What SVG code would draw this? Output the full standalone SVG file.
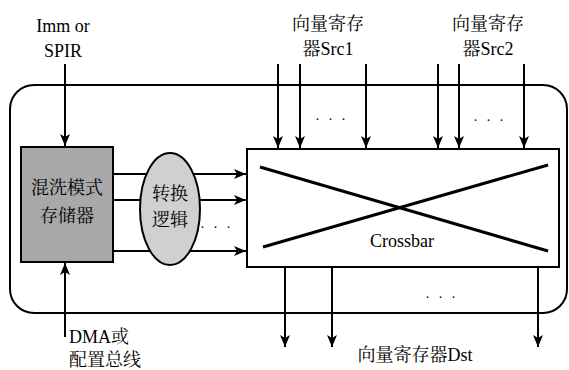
<svg xmlns="http://www.w3.org/2000/svg" width="569" height="370" viewBox="0 0 569 370">
<defs>
<marker id="ah" viewBox="0 0 12 10" refX="12" refY="5" markerWidth="12" markerHeight="10" markerUnits="userSpaceOnUse" orient="auto">
<path d="M0,0 L12,5 L0,10 L3,5 Z" fill="#000"/>
</marker>
</defs>
<rect width="569" height="370" fill="#fff"/>
<g id="frame">
<rect x="10" y="85" width="557" height="228" rx="24" ry="24" fill="none" stroke="#000" stroke-width="2"/>
</g>
<g id="connectors" stroke="#000" stroke-width="2" fill="none" marker-end="url(#ah)">
<line x1="65" y1="64" x2="65" y2="146"/>
<line x1="65" y1="337" x2="65" y2="263"/>
<line x1="113" y1="174" x2="246" y2="174"/>
<line x1="113" y1="200" x2="246" y2="200"/>
<line x1="113" y1="251" x2="246" y2="251"/>
<line x1="278" y1="64" x2="278" y2="148"/>
<line x1="300" y1="64" x2="300" y2="148"/>
<line x1="366" y1="64" x2="366" y2="148"/>
<line x1="438" y1="64" x2="438" y2="148"/>
<line x1="459" y1="64" x2="459" y2="148"/>
<line x1="524" y1="64" x2="524" y2="148"/>
<line x1="285" y1="267" x2="285" y2="347"/>
<line x1="332" y1="267" x2="332" y2="347"/>
<line x1="538" y1="267" x2="538" y2="347"/>
</g>
<g id="shuffle-memory">
<rect x="21" y="147" width="92" height="115" fill="#a8a8a8" stroke="#000" stroke-width="2"/>
<text x="67" y="194" font-family="Liberation Serif, Noto Serif CJK SC, serif" font-size="18" text-anchor="middle">混洗模式</text>
<text x="67" y="222" font-family="Liberation Serif, Noto Serif CJK SC, serif" font-size="18" text-anchor="middle">存储器</text>
</g>
<g id="convert-logic">
<ellipse cx="170" cy="209" rx="30" ry="56" fill="#d0d0d0" stroke="#000" stroke-width="2"/>
<text x="170" y="200" font-family="Liberation Serif, Noto Serif CJK SC, serif" font-size="18" text-anchor="middle">转换</text>
<text x="170" y="226" font-family="Liberation Serif, Noto Serif CJK SC, serif" font-size="18" text-anchor="middle">逻辑</text>
</g>
<g id="crossbar">
<rect x="247" y="149" width="312" height="118" fill="#fff" stroke="#000" stroke-width="2"/>
<line x1="260" y1="167" x2="548" y2="251" stroke="#000" stroke-width="3"/>
<line x1="263" y1="247" x2="548" y2="165" stroke="#000" stroke-width="3"/>
<text x="402" y="247" font-family="Liberation Serif" font-size="18" text-anchor="middle">Crossbar</text>
</g>
<g id="labels">
<text x="63" y="32" font-family="Liberation Serif" font-size="18" text-anchor="middle">Imm or</text>
<text x="63" y="57" font-family="Liberation Serif" font-size="18" text-anchor="middle">SPIR</text>
<text x="328" y="30" font-family="Liberation Serif, Noto Serif CJK SC, serif" font-size="18" text-anchor="middle">向量寄存</text>
<text x="328" y="55" font-family="Liberation Serif, Noto Serif CJK SC, serif" font-size="18" text-anchor="middle">器Src1</text>
<text x="488" y="30" font-family="Liberation Serif, Noto Serif CJK SC, serif" font-size="18" text-anchor="middle">向量寄存</text>
<text x="488" y="55" font-family="Liberation Serif, Noto Serif CJK SC, serif" font-size="18" text-anchor="middle">器Src2</text>
<text x="69" y="343" font-family="Liberation Serif, Noto Serif CJK SC, serif" font-size="18">DMA或</text>
<text x="69" y="366" font-family="Liberation Serif, Noto Serif CJK SC, serif" font-size="18">配置总线</text>
<text x="415" y="361" font-family="Liberation Serif, Noto Serif CJK SC, serif" font-size="18" text-anchor="middle">向量寄存器Dst</text>
</g>
<g id="ellipses">
<text x="217" y="228" font-family="Liberation Serif" font-size="14" letter-spacing="3" text-anchor="middle">. . .</text>
<text x="332" y="120" font-family="Liberation Serif" font-size="14" letter-spacing="3" text-anchor="middle">. . .</text>
<text x="490" y="121" font-family="Liberation Serif" font-size="14" letter-spacing="3" text-anchor="middle">. . .</text>
<text x="442" y="298" font-family="Liberation Serif" font-size="14" letter-spacing="3" text-anchor="middle">. . .</text>
</g>
</svg>
